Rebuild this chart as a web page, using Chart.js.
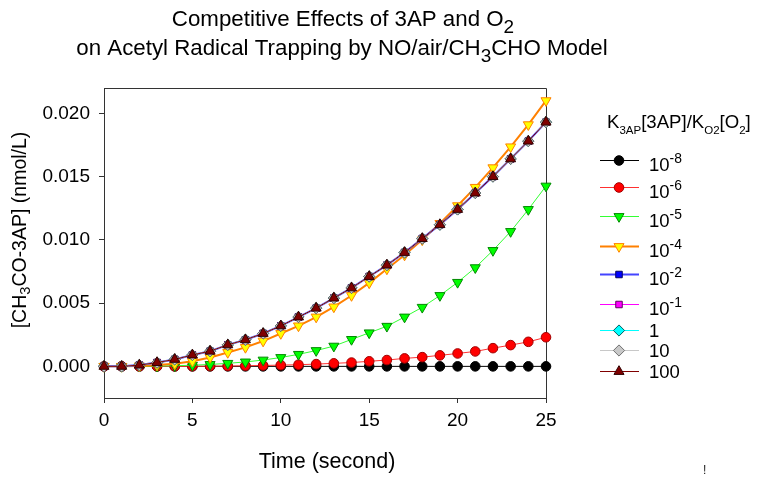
<!DOCTYPE html>
<html>
<head>
<meta charset="utf-8">
<script src="https://cdn.jsdelivr.net/npm/chart.js@4.4.0/dist/chart.umd.min.js"></script>
<style>
  html, body { margin: 0; padding: 0; background: #fff; }
  canvas { display: block; }
</style>
</head>
<body>
<canvas id="chart" width="762" height="483"></canvas>
<script>
// time axis (seconds)
const times = [0, 1, 2, 3, 4, 5, 6, 7, 8, 9, 10, 11, 12, 13, 14, 15, 16, 17, 18, 19, 20, 21, 22, 23, 24, 25];

// [CH3CO-3AP] (nmol/L) for each K3AP[3AP]/KO2[O2] ratio
const conc1e8 = [0, 0, 0, 0, 0, 0, 0, 0, 0, 0, 0, 0, 0, 0, 0, 0, 0, 0, 0, 0, 0, 0, 0, 0, 0, 0];
const conc1e6 = [0, 0, 0, 0, 0, 0.00001, 0.00002, 0.00003, 0.00005, 0.00007, 0.0001, 0.00013, 0.00018,
  0.00024, 0.0003, 0.0004, 0.0005, 0.00063, 0.00073, 0.00087, 0.00102, 0.00118, 0.00144, 0.00168, 0.00194, 0.0023];
const conc1e5 = [0, 0, 0.00001, 0.00002, 0.00005, 0.00009, 0.00015, 0.00024, 0.00035, 0.0005, 0.0007, 0.00095, 0.00125,
  0.0016, 0.00213, 0.00265, 0.00317, 0.0039, 0.00467, 0.0056, 0.00664, 0.0078, 0.00916, 0.01066, 0.0124, 0.01425];
const conc1e4 = [0, 0, 0.00003, 0.0001, 0.0002, 0.0004, 0.0007, 0.0011, 0.0015, 0.002, 0.0026, 0.0032, 0.0039,
  0.0047, 0.0056, 0.0066, 0.0077, 0.0088, 0.01, 0.0113, 0.0127, 0.01415, 0.0157, 0.01735, 0.0191, 0.021];
const conc1e2 = [0, 0, 0.0001, 0.0003, 0.00055, 0.0009, 0.0012, 0.0017, 0.0021, 0.0026, 0.0032, 0.0039, 0.0046,
  0.0054, 0.0062, 0.0071, 0.008, 0.009, 0.0101, 0.0112, 0.0124, 0.0137, 0.015, 0.0164, 0.0178, 0.0193];
const conc1e1 = [0, 0, 0.0001, 0.0003, 0.00055, 0.0009, 0.0012, 0.0017, 0.0021, 0.0026, 0.0032, 0.0039, 0.0046,
  0.0054, 0.0062, 0.0071, 0.008, 0.009, 0.0101, 0.0112, 0.0124, 0.0137, 0.015, 0.0164, 0.0178, 0.0193];
const conc1 = [0, 0, 0.0001, 0.0003, 0.00055, 0.0009, 0.0012, 0.0017, 0.0021, 0.0026, 0.0032, 0.0039, 0.0046,
  0.0054, 0.0062, 0.0071, 0.008, 0.009, 0.0101, 0.0112, 0.0124, 0.0137, 0.015, 0.0164, 0.0178, 0.0193];
const conc10 = [0, 0, 0.0001, 0.0003, 0.00055, 0.0009, 0.0012, 0.0017, 0.0021, 0.0026, 0.0032, 0.0039, 0.0046,
  0.0054, 0.0062, 0.0071, 0.008, 0.009, 0.0101, 0.0112, 0.0124, 0.0137, 0.015, 0.0164, 0.0178, 0.0193];
const conc100 = [0, 0, 0.0001, 0.0003, 0.00055, 0.0009, 0.0012, 0.0017, 0.0021, 0.0026, 0.0032, 0.0039, 0.0046,
  0.0054, 0.0062, 0.0071, 0.008, 0.009, 0.0101, 0.0112, 0.0124, 0.0137, 0.015, 0.0164, 0.0178, 0.0193];

// legend labels: base + superscript
const ratioLabels = [['10', '-8'], ['10', '-6'], ['10', '-5'], ['10', '-4'], ['10', '-2'], ['10', '-1'], ['1', ''], ['10', ''], ['100', '']];
const xTicks = [0, 5, 10, 15, 20, 25];
const yTicks = [0, 0.005, 0.01, 0.015, 0.02];

const FONT = '"Liberation Sans", Arial, Helvetica, sans-serif';

const styles = [
  { line: '#000000', fill: '#000000', edge: '#000000', shape: 'circle', rot: 0, lw: 1 },
  { line: '#ff3030', fill: '#ff0000', edge: '#a00000', shape: 'circle', rot: 0, lw: 1 },
  { line: '#33ff33', fill: '#00ff00', edge: '#008800', shape: 'triangle', rot: 180, lw: 1 },
  { line: '#ff8000', fill: '#ffff00', edge: '#ff8000', shape: 'triangle', rot: 180, lw: 2 },
  { line: '#4444ff', fill: '#0000ff', edge: '#000060', shape: 'rect', rot: 0, lw: 2 },
  { line: '#ff00ff', fill: '#ff00ff', edge: '#600060', shape: 'rect', rot: 0, lw: 1 },
  { line: '#00ffff', fill: '#00ffff', edge: '#006060', shape: 'rectRot', rot: 0, lw: 1 },
  { line: '#c8c8c8', fill: '#c8c8c8', edge: '#707070', shape: 'rectRot', rot: 0, lw: 1 },
  { line: '#800000', fill: '#800000', edge: '#300000', shape: 'triangle', rot: 0, lw: 1 }
];
const seriesValues = [conc1e8, conc1e6, conc1e5, conc1e4, conc1e2, conc1e1, conc1, conc10, conc100];
const pointSizes = { circle: 4.8, triangle: 5.8, rect: 4.6, rectRot: 5.6 };

const datasets = seriesValues.map((vals, i) => ({
  label: ratioLabels[i].join(''),
  data: times.map((t, k) => ({ x: t, y: vals[k] })),
  borderColor: styles[i].line,
  borderWidth: styles[i].lw,
  pointBackgroundColor: styles[i].fill,
  pointBorderColor: styles[i].edge,
  pointBorderWidth: 1,
  pointStyle: styles[i].shape,
  pointRotation: styles[i].rot,
  pointRadius: pointSizes[styles[i].shape],
  tension: 0,
  clip: false,
  order: seriesValues.length - 1 - i
}));

// draw text made of normal / sub / sup parts
function richWidth(ctx, parts, size) {
  let w = 0;
  parts.forEach(p => {
    const s = p[1] ? size * p[2] : size;
    ctx.font = s + 'px ' + FONT;
    w += ctx.measureText(p[0]).width;
  });
  return w;
}
function drawRich(ctx, parts, x, y, size, align) {
  // parts: [text, shift (fraction of size, + is down), scale]
  let w = richWidth(ctx, parts, size);
  let cx = align === 'center' ? x - w / 2 : (align === 'right' ? x - w : x);
  ctx.textBaseline = 'alphabetic';
  ctx.textAlign = 'left';
  parts.forEach(p => {
    const s = p[1] ? size * p[2] : size;
    ctx.font = s + 'px ' + FONT;
    ctx.fillText(p[0], cx, y + (p[1] ? p[1] * size : 0));
    cx += ctx.measureText(p[0]).width;
  });
}

const legendRowY = [160, 187, 216, 246, 274, 304, 330, 350, 371];

const decor = {
  id: 'decor',
  beforeDatasetsDraw(chart) {
    const { ctx, chartArea: a } = chart;
    ctx.save();
    ctx.strokeStyle = '#333';
    ctx.lineWidth = 1;
    ctx.beginPath();
    ctx.moveTo(a.left, a.top + 0.5);
    ctx.lineTo(a.right + 0.5, a.top + 0.5);
    ctx.lineTo(a.right + 0.5, a.bottom);
    ctx.stroke();
    ctx.restore();
  },
  afterDraw(chart) {
    const { ctx } = chart;
    ctx.save();
    ctx.fillStyle = '#000';

    // title
    drawRich(ctx, [['Competitive Effects of 3AP and O'], ['2', 0.3, 0.85]], 343, 26, 22.3, 'center');
    drawRich(ctx, [['on Acetyl Radical Trapping by NO/air/CH'], ['3', 0.3, 0.85], ['CHO Model']], 342, 55, 22.3, 'center');

    // y axis title
    ctx.save();
    ctx.translate(26, 230);
    ctx.rotate(-Math.PI / 2);
    drawRich(ctx, [['[CH'], ['3', 0.22, 0.75], ['CO-3AP] (nmol/L)']], 0, 0, 19.5, 'center');
    ctx.restore();

    // x axis title
    drawRich(ctx, [['Time (second)']], 327, 468, 21.5, 'center');

    // legend title
    drawRich(ctx, [['K'], ['3AP', 0.3, 0.62], ['[3AP]/K'], ['O2', 0.3, 0.62], ['[O'], ['2', 0.3, 0.62], [']']], 607, 128, 18.6, 'left');

    // legend rows
    ratioLabels.forEach((lab, i) => {
      const y = legendRowY[i];
      const st = styles[i];
      ctx.strokeStyle = st.line;
      ctx.lineWidth = st.lw;
      ctx.beginPath();
      ctx.moveTo(600, y + 0.5);
      ctx.lineTo(639, y + 0.5);
      ctx.stroke();
      ctx.fillStyle = st.fill;
      ctx.strokeStyle = st.edge;
      ctx.lineWidth = 1;
      Chart.helpers.drawPoint(ctx, { pointStyle: st.shape, rotation: st.rot, radius: pointSizes[st.shape], borderWidth: 1 }, 619, y + 0.5);
      ctx.fillStyle = '#000';
      if (lab[1]) {
        drawRich(ctx, [[lab[0]], [lab[1], -0.45, 0.75]], 649, y + 11, 18.5, 'left');
      } else {
        drawRich(ctx, [[lab[0]]], 649, y + 7, 18.5, 'left');
      }
    });

    // stray mark
    ctx.font = '12px ' + FONT;
    ctx.fillStyle = '#222';
    ctx.fillText('!', 703, 474);
    ctx.restore();
  }
};

new Chart(document.getElementById('chart'), {
  type: 'line',
  data: { datasets },
  options: {
    responsive: false,
    animation: false,
    devicePixelRatio: 1,
    layout: { padding: { left: 0, top: 88, right: 216, bottom: 0 } },
    plugins: { legend: { display: false }, title: { display: false }, tooltip: { enabled: false } },
    scales: {
      x: {
        type: 'linear',
        min: 0,
        max: 25,
        afterBuildTicks: s => { s.ticks = xTicks.map(v => ({ value: v })); },
        afterFit: s => { s.height = 483 - 398; },
        ticks: { color: '#000', font: { family: FONT, size: 19 }, padding: 6, maxRotation: 0, autoSkip: false },
        grid: { drawOnChartArea: false, drawTicks: true, tickLength: 5, color: '#333' },
        border: { display: true, color: '#333', width: 1 }
      },
      y: {
        type: 'linear',
        min: -0.0025,
        max: 0.022,
        afterBuildTicks: s => { s.ticks = yTicks.map(v => ({ value: v })); },
        afterFit: s => { s.width = 104; },
        ticks: { color: '#000', font: { family: FONT, size: 19 }, padding: 9, callback: v => v.toFixed(3) },
        grid: { drawOnChartArea: false, drawTicks: true, tickLength: 5, color: '#333' },
        border: { display: true, color: '#333', width: 1 }
      }
    }
  },
  plugins: [decor]
});
</script>
</body>
</html>
